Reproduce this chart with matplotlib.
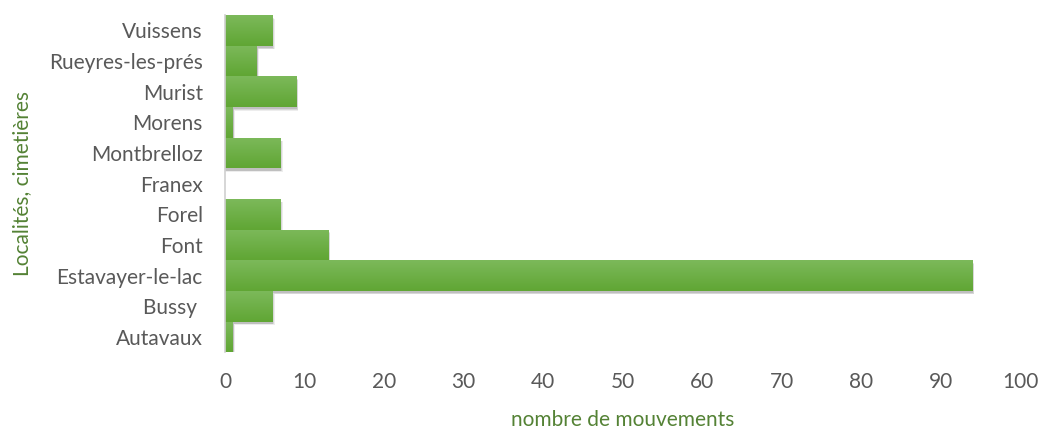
import numpy as np
import matplotlib
matplotlib.use("Agg")
import matplotlib.pyplot as plt
from matplotlib.colors import LinearSegmentedColormap

localites = ["Autavaux", "Bussy ", "Estavayer-le-lac", "Font", "Forel", "Franex",
             "Montbrelloz", "Morens", "Murist", "Rueyres-les-prés", "Vuissens"]
mouvements = [1, 6, 94, 13, 7, 0, 7, 1, 9, 4, 6]
x_ticks = [0, 10, 20, 30, 40, 50, 60, 70, 80, 90, 100]

plt.rcParams["font.family"] = ["Lato", "DejaVu Sans"]
label_color = "#595959"
title_color = "#548235"
fs = 15

fig = plt.figure(figsize=(10.42, 4.30), dpi=100)
ax = fig.add_axes([0.216, 0.181, 0.763, 0.784])

ypos = np.arange(len(localites))
height = 1.0

# soft drop shadow behind each bar
for k, a in zip([0.25, 0.45, 0.65], [0.11, 0.09, 0.07]):
    ax.barh(ypos - 0.05 - k * 0.1, [v + k * 0.35 if v > 0 else 0 for v in mouvements],
            height=height, color="black", alpha=a, linewidth=0, zorder=1)

bars = ax.barh(ypos, mouvements, height=height, color="#68AC3C", linewidth=0, zorder=2)

# vertical gradient on each bar: lighter top, darker bottom
cmap = LinearSegmentedColormap.from_list("g", ["#60A634", "#7CB95A"])
grad = np.linspace(0, 1, 64).reshape(-1, 1)
for b in bars:
    w = b.get_width()
    if w <= 0:
        continue
    y0 = b.get_y()
    im = ax.imshow(grad, cmap=cmap, aspect="auto", origin="lower",
                   extent=[0, w, y0, y0 + b.get_height()], zorder=3)
    im.set_clip_path(b)

ax.set_xlim(0, 100)
ax.set_ylim(-0.5, len(localites) - 0.5)
ax.set_xticks(x_ticks)
ax.set_xticklabels([str(t) for t in x_ticks])
ax.set_yticks(ypos)
ax.set_yticklabels(localites)
ax.tick_params(axis="both", length=0, labelsize=fs, colors=label_color)
ax.tick_params(axis="x", pad=14)
ax.tick_params(axis="y", pad=16)

for s in ["top", "right", "bottom"]:
    ax.spines[s].set_visible(False)
ax.spines["left"].set_color("#D0D0D0")
ax.spines["left"].set_linewidth(1.2)
ax.spines["left"].set_zorder(5)

ax.set_xlabel("nombre de mouvements", fontsize=fs, color=title_color, labelpad=13)
ax.set_ylabel("Localités, cimetières", fontsize=fs, color=title_color, labelpad=12)

fig.savefig("out.png", dpi=100)
